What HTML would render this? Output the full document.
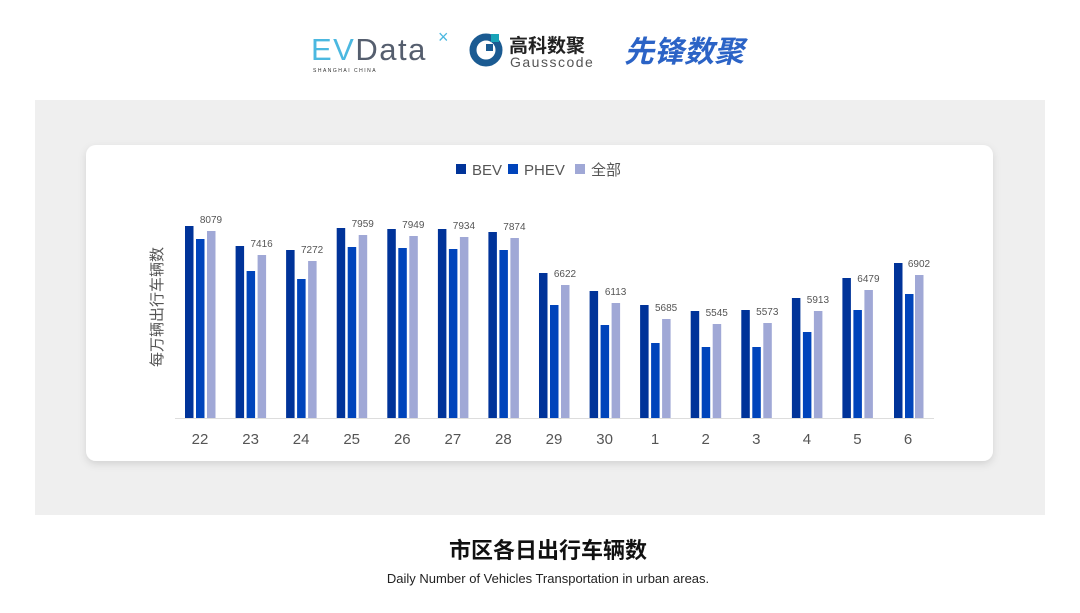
<!DOCTYPE html>
<html><head><meta charset="utf-8"><style>
body{margin:0;width:1080px;height:608px;background:#fff;overflow:hidden;font-family:"Liberation Sans","Noto Sans CJK SC",sans-serif}
</style></head><body>
<svg width="1080" height="608" viewBox="0 0 1080 608" xmlns="http://www.w3.org/2000/svg" font-family="Liberation Sans, Noto Sans CJK SC, sans-serif">
<defs><filter id="sh" x="-5%" y="-10%" width="110%" height="120%"><feDropShadow dx="0" dy="3" stdDeviation="4" flood-color="#000" flood-opacity="0.12"/></filter></defs>
<text x="311" y="60" font-size="31" fill="#4bb8e0" letter-spacing="1.5" font-family="Liberation Sans, sans-serif">EV<tspan fill="#555e6e">Data</tspan></text>
<text x="438" y="43" font-size="18" fill="#4bb8e0">×</text>
<text x="313" y="72" font-size="5" fill="#333" letter-spacing="1.5">SHANGHAI CHINA</text>
<circle cx="486" cy="50" r="13" fill="none" stroke="#1b5b92" stroke-width="7"/>
<rect x="491" y="34" width="8" height="8" fill="#19a3b8"/>
<rect x="486" y="44" width="7" height="7" fill="#1b5b92"/>
<text x="509" y="52" font-size="19" fill="#222" font-weight="bold">高科数聚</text>
<text x="510" y="67" font-size="14" fill="#555" letter-spacing="1.5">Gausscode</text>
<text x="624" y="62" font-size="30" fill="#2b63c6" font-weight="bold" font-style="italic">先锋数聚</text>
<rect x="35" y="100" width="1010" height="415" fill="#efefef"/>
<rect x="86" y="145" width="907" height="316" rx="10" fill="#fff" filter="url(#sh)"/>
<rect x="456" y="164" width="10" height="10" fill="#003399"/>
<text x="472" y="175" font-size="15" fill="#555">BEV</text>
<rect x="508" y="164" width="10" height="10" fill="#0044bb"/>
<text x="524" y="175" font-size="15" fill="#555">PHEV</text>
<rect x="575" y="164" width="10" height="10" fill="#a0a8d6"/>
<text x="591" y="175" font-size="15" fill="#555">全部</text>
<text transform="translate(162,307) rotate(-90)" text-anchor="middle" font-size="15" fill="#555">每万辆出行车辆数</text>
<line x1="175" y1="418.5" x2="934" y2="418.5" stroke="#ddd" stroke-width="1"/>
<g font-size="10" fill="#555" text-anchor="middle">
<g transform="translate(200,0)"><rect x="-15" y="226" width="8.5" height="192" fill="#003399"/><rect x="-4" y="239" width="8.5" height="179" fill="#0044bb"/><rect x="7" y="231" width="8.5" height="187" fill="#a0a8d6"/><text x="11" y="223">8079</text></g>
<g transform="translate(250.6,0)"><rect x="-15" y="246" width="8.5" height="172" fill="#003399"/><rect x="-4" y="271" width="8.5" height="147" fill="#0044bb"/><rect x="7" y="255" width="8.5" height="163" fill="#a0a8d6"/><text x="11" y="247">7416</text></g>
<g transform="translate(301.1,0)"><rect x="-15" y="250" width="8.5" height="168" fill="#003399"/><rect x="-4" y="279" width="8.5" height="139" fill="#0044bb"/><rect x="7" y="261" width="8.5" height="157" fill="#a0a8d6"/><text x="11" y="253">7272</text></g>
<g transform="translate(351.7,0)"><rect x="-15" y="228" width="8.5" height="190" fill="#003399"/><rect x="-4" y="247" width="8.5" height="171" fill="#0044bb"/><rect x="7" y="235" width="8.5" height="183" fill="#a0a8d6"/><text x="11" y="227">7959</text></g>
<g transform="translate(402.3,0)"><rect x="-15" y="229" width="8.5" height="189" fill="#003399"/><rect x="-4" y="248" width="8.5" height="170" fill="#0044bb"/><rect x="7" y="236" width="8.5" height="182" fill="#a0a8d6"/><text x="11" y="228">7949</text></g>
<g transform="translate(452.9,0)"><rect x="-15" y="229" width="8.5" height="189" fill="#003399"/><rect x="-4" y="249" width="8.5" height="169" fill="#0044bb"/><rect x="7" y="237" width="8.5" height="181" fill="#a0a8d6"/><text x="11" y="229">7934</text></g>
<g transform="translate(503.4,0)"><rect x="-15" y="232" width="8.5" height="186" fill="#003399"/><rect x="-4" y="250" width="8.5" height="168" fill="#0044bb"/><rect x="7" y="238" width="8.5" height="180" fill="#a0a8d6"/><text x="11" y="230">7874</text></g>
<g transform="translate(554,0)"><rect x="-15" y="273" width="8.5" height="145" fill="#003399"/><rect x="-4" y="305" width="8.5" height="113" fill="#0044bb"/><rect x="7" y="285" width="8.5" height="133" fill="#a0a8d6"/><text x="11" y="277">6622</text></g>
<g transform="translate(604.6,0)"><rect x="-15" y="291" width="8.5" height="127" fill="#003399"/><rect x="-4" y="325" width="8.5" height="93" fill="#0044bb"/><rect x="7" y="303" width="8.5" height="115" fill="#a0a8d6"/><text x="11" y="295">6113</text></g>
<g transform="translate(655.1,0)"><rect x="-15" y="305" width="8.5" height="113" fill="#003399"/><rect x="-4" y="343" width="8.5" height="75" fill="#0044bb"/><rect x="7" y="319" width="8.5" height="99" fill="#a0a8d6"/><text x="11" y="311">5685</text></g>
<g transform="translate(705.7,0)"><rect x="-15" y="311" width="8.5" height="107" fill="#003399"/><rect x="-4" y="347" width="8.5" height="71" fill="#0044bb"/><rect x="7" y="324" width="8.5" height="94" fill="#a0a8d6"/><text x="11" y="316">5545</text></g>
<g transform="translate(756.3,0)"><rect x="-15" y="310" width="8.5" height="108" fill="#003399"/><rect x="-4" y="347" width="8.5" height="71" fill="#0044bb"/><rect x="7" y="323" width="8.5" height="95" fill="#a0a8d6"/><text x="11" y="315">5573</text></g>
<g transform="translate(806.9,0)"><rect x="-15" y="298" width="8.5" height="120" fill="#003399"/><rect x="-4" y="332" width="8.5" height="86" fill="#0044bb"/><rect x="7" y="311" width="8.5" height="107" fill="#a0a8d6"/><text x="11" y="303">5913</text></g>
<g transform="translate(857.4,0)"><rect x="-15" y="278" width="8.5" height="140" fill="#003399"/><rect x="-4" y="310" width="8.5" height="108" fill="#0044bb"/><rect x="7" y="290" width="8.5" height="128" fill="#a0a8d6"/><text x="11" y="282">6479</text></g>
<g transform="translate(908,0)"><rect x="-14" y="263" width="8.5" height="155" fill="#003399"/><rect x="-3" y="294" width="8.5" height="124" fill="#0044bb"/><rect x="7" y="275" width="8.5" height="143" fill="#a0a8d6"/><text x="11" y="267">6902</text></g>
</g>
<g font-size="15" fill="#555" text-anchor="middle">
<text x="200" y="444">22</text><text x="250.6" y="444">23</text><text x="301.1" y="444">24</text><text x="351.7" y="444">25</text><text x="402.3" y="444">26</text><text x="452.9" y="444">27</text><text x="503.4" y="444">28</text><text x="554" y="444">29</text><text x="604.6" y="444">30</text><text x="655.1" y="444">1</text><text x="705.7" y="444">2</text><text x="756.3" y="444">3</text><text x="806.9" y="444">4</text><text x="857.4" y="444">5</text><text x="908" y="444">6</text>
</g>
<text x="548" y="558" font-size="22" font-weight="bold" fill="#111" text-anchor="middle">市区各日出行车辆数</text>
<text x="548" y="583" font-size="13" fill="#222" text-anchor="middle">Daily Number of Vehicles Transportation in urban areas.</text>
</svg>
</body></html>
